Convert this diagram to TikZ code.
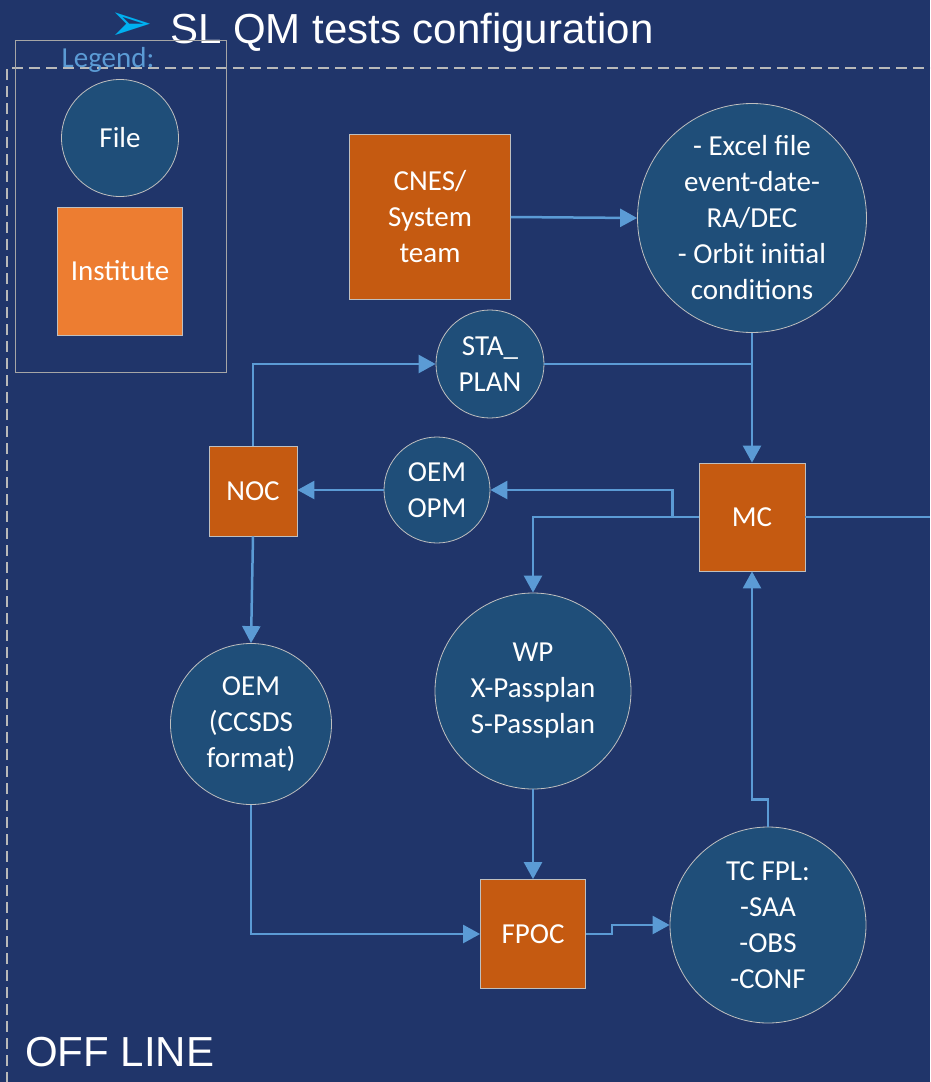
\documentclass[tikz,border=0pt]{standalone}
\usepackage{fontspec}
\usetikzlibrary{arrows.meta}
\newfontfamily\calib{Carlito}
\newfontfamily\arialf{Liberation Sans}
\newfontfamily\dejavu{DejaVu Sans}
\definecolor{bgnavy}{RGB}{32,53,106}
\definecolor{filefill}{RGB}{31,78,121}
\definecolor{instfill}{RGB}{197,90,17}
\definecolor{legfill}{RGB}{237,125,49}
\definecolor{linkblue}{RGB}{91,155,213}
\definecolor{bulletblue}{RGB}{0,176,240}

\begin{document}
\begin{tikzpicture}[x=1pt, y=-1pt,
		txt/.style   = {font=\calib\fontsize{29}{36}\selectfont, text=white, align=center},
		filenode/.style = {txt, circle, draw=gray!50!white, line width=0.8pt, fill=filefill, inner sep=0pt},
		inst/.style  = {txt, rectangle, draw=gray!50!white, line width=0.8pt, fill=instfill, inner sep=0pt},
		wire/.style  = {draw=linkblue, line width=2.5pt},
		link/.style  = {wire, -{Triangle[length=17pt, width=18pt]}}]
		\useasboundingbox (0,0) rectangle (930,1082);
		\clip (0,0) rectangle (930,1082);
		\fill[bgnavy] (0,0) rectangle (930,1082);
		% frame of the off line part
		\draw[gray!55!white, line width=2.5pt, dash pattern=on 11pt off 6pt]
		(7,1100) -- (7,68) -- (950,68);
		\node (offline) at (25,1066) [anchor=base west, inner sep=0pt, font=\arialf\fontsize{42}{50}\selectfont, text=white] {OFF LINE};
		% title
		\node (bullet) at (131,27) [inner sep=0pt, font=\dejavu\fontsize{52}{60}\selectfont, text=bulletblue] {➢};
		\node (title) at (170,43) [anchor=base west, font=\arialf\fontsize{42}{50}\selectfont, text=white, inner sep=0pt]
		{SL QM tests configuration};
		% legend
		\draw[gray!70!white, line width=1pt] (15,40) rectangle (226,372);
		\node (legend) at (108,60) [txt, text=linkblue] {Legend:};
		\node (legfile) at (120,138) [filenode, minimum size=117pt] {File};
		\node (leginst) at (120,271) [inst, fill=legfill, minimum width=125pt, minimum height=128pt] {Institute};
		% institutes
		\node (cnes) at (430,217) [inst, minimum width=161pt, minimum height=165pt] {CNES/\\System\\team};
		\node (noc) at (253,491) [inst, minimum width=88pt, minimum height=90pt] {NOC};
		\node (mc) at (752,517) [inst, minimum width=106pt, minimum height=108pt] {MC};
		\node (fpoc) at (533,934) [inst, minimum width=105pt, minimum height=109pt] {FPOC};
		% files
		\node (excel) at (752,218) [filenode, minimum size=229pt]
		{- Excel file\\event-date-\\RA/DEC\\- Orbit initial\\conditions};
		\node (sta) at (490,364) [filenode, minimum size=108pt] {STA\_\\PLAN};
		\node (oemopm) at (437,490) [filenode, minimum size=106pt] {OEM\\OPM};
		\node (oemccsds) at (251,724) [filenode, minimum size=161pt] {OEM\\(CCSDS\\format)};
		\node (wp) at (533,691) [filenode, minimum size=196pt] {WP\\X-Passplan\\S-Passplan};
		\node (tcfpl) at (768,925) [filenode, minimum size=196pt] {TC FPL:\\-SAA\\-OBS\\-CONF};
		\coordinate (online) at (930,517);
		% connectors
		\draw[link] (cnes.east) -- (excel.west);
		\draw[link] (excel.south) -- (mc.north);
		\draw[wire] (sta.east) -- (sta.east -| mc.north);
		\draw[link] (noc.north) |- (sta.west);
		\draw[link] (mc.west) -- ++(-26,0) |- (oemopm.east);
		\draw[link] (oemopm.west) -- (oemopm.west -| noc.east);
		\draw[link] (mc.west) -| (wp.north);
		\draw[wire] (mc.east) -- (online);
		\draw[link] (noc.south) -- (oemccsds.north);
		\draw[link] (oemccsds.south) |- (fpoc.west);
		\draw[link] (wp.south) -- (fpoc.north);
		\draw[link] (fpoc.east) -- ++(26,0) |- (tcfpl.west);
		\draw[link] (tcfpl.north) -- ++(0,-27) -| (mc.south);
\end{tikzpicture}
\end{document}
